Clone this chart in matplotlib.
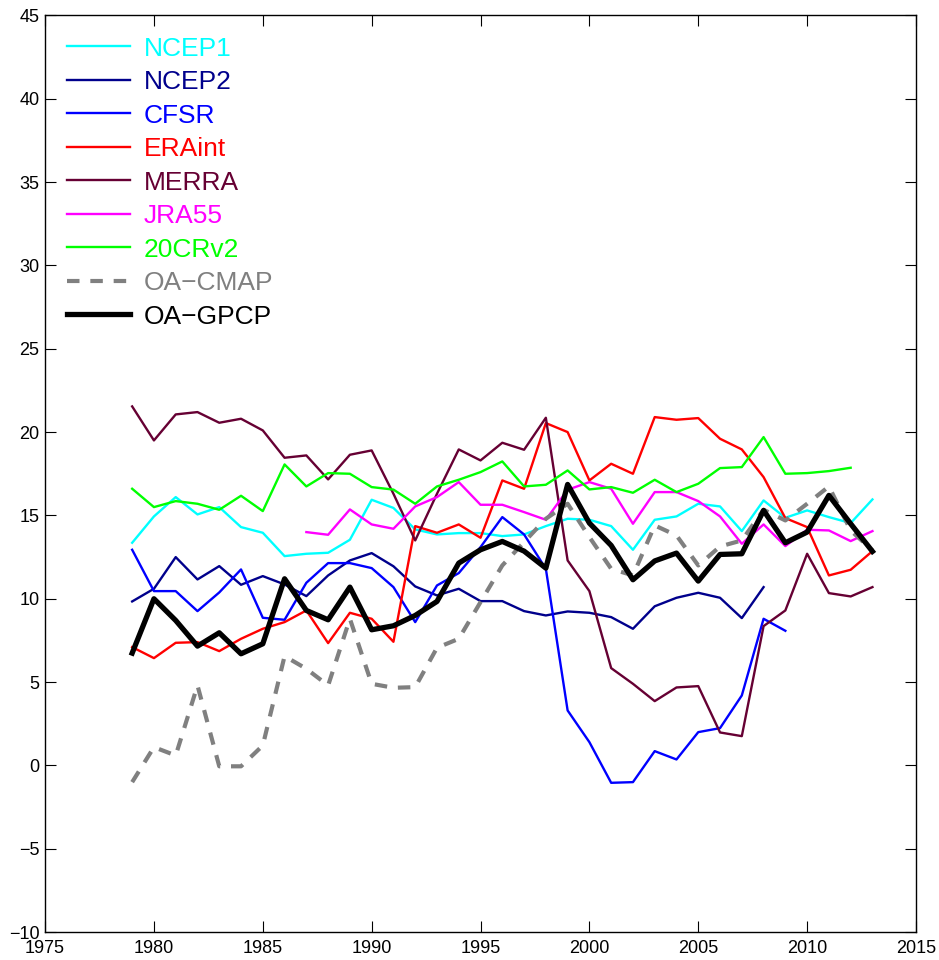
import numpy as np
import matplotlib
matplotlib.use("Agg")
import matplotlib.pyplot as plt

plt.rcParams['font.family'] = ['Liberation Sans', 'DejaVu Sans']

years = np.arange(1979, 2014)

ncep1 = [13.36, 14.94, 16.1, 15.06, 15.5, 14.3, 13.96, 12.56, 12.7, 12.76, 13.54, 15.94, 15.45,
         14.16, 13.86, 13.94, 13.94, 13.76, 13.86, 14.36, 14.8, 14.74, 14.36, 12.94, 14.74,
         14.94, 15.7, 15.54, 14.06, 15.9, 14.86, 15.3, 14.9, 14.54, 15.96]
ncep2 = [9.84, 10.6, 12.5, 11.16, 11.96, 10.84, 11.36, 10.86, 10.16, 11.4, 12.3, 12.74, 11.95,
         10.74, 10.2, 10.6, 9.86, 9.86, 9.26, 9.0, 9.24, 9.16, 8.9, 8.2, 9.55,
         10.06, 10.36, 10.06, 8.84, 10.7]
cfsr = [12.94, 10.46, 10.46, 9.26, 10.38, 11.76, 8.86, 8.74, 10.96, 12.14, 12.14, 11.84, 10.7,
        8.6, 10.8, 11.54, 13.1, 14.9, 13.86, 11.8, 3.3, 1.4, -1.04, -1.0, 0.86,
        0.36, 2.0, 2.24, 4.2, 8.8, 8.08]
eraint = [7.1, 6.44, 7.36, 7.4, 6.86, 7.6, 8.2, 8.6, 9.3, 7.34, 9.16, 8.8, 7.42,
          14.36, 13.96, 14.46, 13.66, 17.1, 16.6, 20.54, 20.0, 17.1, 18.1, 17.5, 20.9,
          20.74, 20.84, 19.6, 18.96, 17.3, 14.84, 14.3, 11.4, 11.74, 12.86]
merra = [21.54, 19.5, 21.06, 21.2, 20.56, 20.8, 20.1, 18.46, 18.6, 17.16, 18.64, 18.9, 16.3,
         13.5, 16.3, 18.96, 18.3, 19.36, 18.94, 20.86, 12.3, 10.46, 5.84, 4.9, 3.86,
         4.68, 4.76, 1.98, 1.76, 8.36, 9.3, 12.7, 10.34, 10.14, 10.7]
jra55_years = np.arange(1987, 2014)
jra55 = [14.0, 13.84, 15.36, 14.46, 14.2, 15.54, 16.1, 17.0, 15.64, 15.64, 15.2, 14.74, 16.54,
         17.0, 16.6, 14.5, 16.4, 16.4, 15.86, 14.94, 13.3, 14.46, 13.16, 14.14, 14.1, 13.46, 14.06]
cr20 = [16.6, 15.5, 15.86, 15.7, 15.34, 16.18, 15.26, 18.06, 16.74, 17.54, 17.5, 16.7, 16.55,
        15.7, 16.74, 17.14, 17.6, 18.24, 16.74, 16.84, 17.7, 16.56, 16.7, 16.36, 17.14,
        16.4, 16.9, 17.84, 17.9, 19.7, 17.5, 17.54, 17.66, 17.86]
oa_cmap = [-1.0, 1.1, 0.6, 4.8, -0.05, -0.05, 1.2, 6.56, 5.8, 4.8, 8.8, 4.9, 4.66,
           4.7, 7.06, 7.6, 9.8, 12.0, 13.4, 14.8, 15.7, 13.7, 11.8, 11.4, 14.4,
           13.8, 12.0, 13.14, 13.5, 15.34, 14.7, 15.7, 16.74, 14.1, 12.9]
oa_gpcp = [6.74, 10.0, 8.7, 7.16, 7.96, 6.7, 7.3, 11.2, 9.3, 8.74, 10.7, 8.14, 8.38,
           9.0, 9.84, 12.14, 12.94, 13.44, 12.86, 11.84, 16.86, 14.54, 13.2, 11.14, 12.27,
           12.74, 11.06, 12.66, 12.7, 15.3, 13.36, 14.0, 16.2, 14.5, 12.84]

labels = ['NCEP1', 'NCEP2', 'CFSR', 'ERAint', 'MERRA', 'JRA55', '20CRv2', 'OA\u2212CMAP', 'OA\u2212GPCP']
xticks = [1975, 1980, 1985, 1990, 1995, 2000, 2005, 2010, 2015]
yticks = [-10, -5, 0, 5, 10, 15, 20, 25, 30, 35, 40, 45]

fig = plt.figure(figsize=(9.39, 9.6), dpi=100)
ax = fig.add_axes([0.048, 0.029, 0.9275, 0.955])

lw = 1.7
ax.plot(years[:len(ncep1)], ncep1, color=(0, 1, 1), lw=lw, label=labels[0])
ax.plot(years[:len(ncep2)], ncep2, color=(0, 0, 0.55), lw=lw, label=labels[1])
ax.plot(years[:len(cfsr)], cfsr, color=(0, 0, 1), lw=lw, label=labels[2])
ax.plot(years[:len(eraint)], eraint, color=(1, 0, 0), lw=lw, label=labels[3])
ax.plot(years[:len(merra)], merra, color=(0.4, 0, 0.2), lw=lw, label=labels[4])
ax.plot(jra55_years, jra55, color=(1, 0, 1), lw=lw, label=labels[5])
ax.plot(years[:len(cr20)], cr20, color=(0, 1, 0), lw=lw, label=labels[6])
ax.plot(years[:len(oa_cmap)], oa_cmap, color=(0.5, 0.5, 0.5), lw=3, ls=(0, (3, 2.6)), label=labels[7])
ax.plot(years[:len(oa_gpcp)], oa_gpcp, color='black', lw=3.8, label=labels[8])

ax.set_xlim(1975, 2015)
ax.set_ylim(-10, 45)
ax.set_xticks(xticks)
ax.set_yticks(yticks)
ax.tick_params(direction='in', top=True, right=True, length=8, width=0.8, labelsize=13)
ax.tick_params(axis='x', pad=6)
ax.tick_params(axis='y', pad=4)
for s in ax.spines.values():
    s.set_linewidth(1.0)

leg = ax.legend(loc='upper left', frameon=False, fontsize=19, labelcolor='linecolor',
                handlelength=2.4, handletextpad=0.5, labelspacing=0.36,
                borderaxespad=0.3, bbox_to_anchor=(0.004, 0.997))

fig.savefig('out.png', dpi=100)
